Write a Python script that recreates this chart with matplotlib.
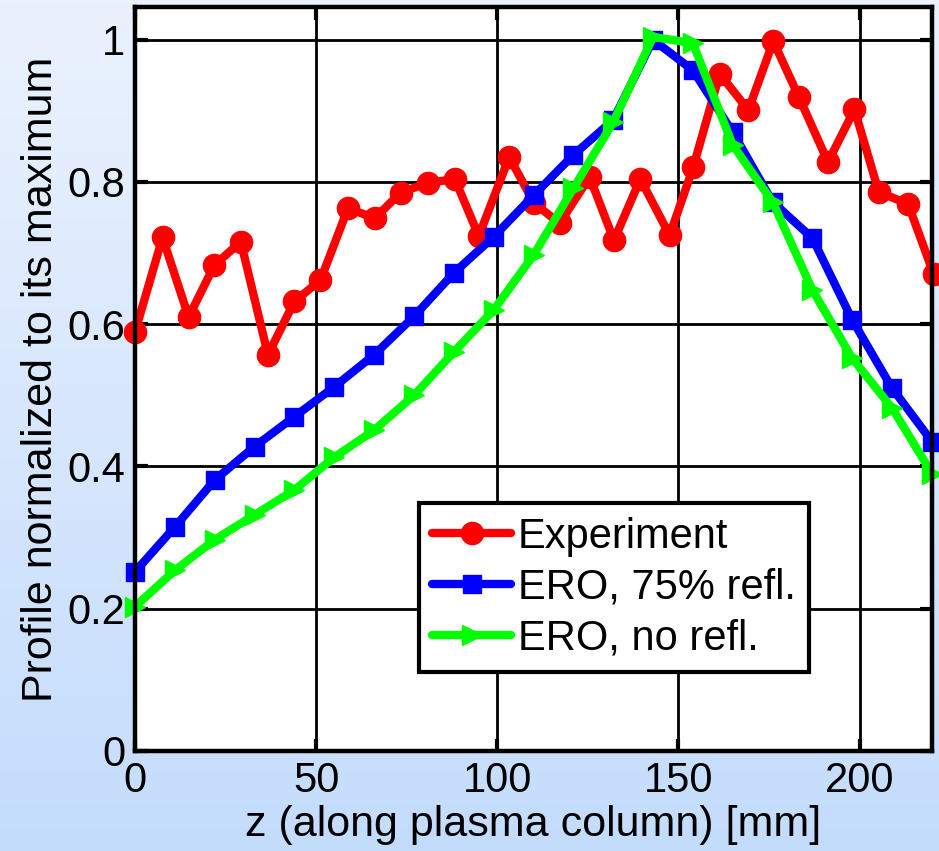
import numpy as np
import matplotlib
matplotlib.use("Agg")
import matplotlib.pyplot as plt
from matplotlib.colors import LinearSegmentedColormap

# ---- data ----
z_exp = [0, 7.6, 14.8, 21.9, 29.2, 36.7, 44.0, 51.2, 58.8, 66.2, 73.3, 80.9, 88.3,
         94.9, 103.3, 110.2, 117.2, 125.5, 132.2, 139.5, 147.6, 154.1, 161.4, 169.3,
         176.2, 183.2, 191.3, 198.6, 205.3, 213.4, 220.5]
y_exp = [0.589, 0.722, 0.610, 0.683, 0.716, 0.557, 0.632, 0.662, 0.763, 0.749, 0.785,
         0.799, 0.804, 0.724, 0.835, 0.770, 0.742, 0.807, 0.718, 0.804, 0.725, 0.821,
         0.952, 0.901, 0.998, 0.920, 0.828, 0.902, 0.786, 0.769, 0.670]

z_ero = [0, 11, 22, 33, 44, 55, 66, 77, 88, 99, 110, 121, 132, 143, 154, 165, 176,
         187, 198, 209, 220]
y_ero75 = [0.252, 0.315, 0.381, 0.428, 0.470, 0.512, 0.557, 0.611, 0.672, 0.723, 0.781,
           0.838, 0.887, 1.000, 0.957, 0.870, 0.772, 0.721, 0.606, 0.510, 0.435]
y_ero0 = [0.203, 0.254, 0.297, 0.332, 0.367, 0.413, 0.451, 0.500, 0.561, 0.620, 0.697,
          0.791, 0.884, 1.004, 0.995, 0.852, 0.772, 0.648, 0.552, 0.482, 0.390]

labels = ["Experiment", "ERO, 75% refl.", "ERO, no refl."]
xticks = [0, 50, 100, 150, 200]
yticks = [0, 0.2, 0.4, 0.6, 0.8, 1]
yticklabels = ["0", "0.2", "0.4", "0.6", "0.8", "1"]

plt.rcParams['font.family'] = ['Liberation Sans', 'DejaVu Sans']

fig = plt.figure(figsize=(9.39, 8.51), dpi=100)

# background gradient
bg = fig.add_axes([0, 0, 1, 1], zorder=-10)
cmap = LinearSegmentedColormap.from_list("bg", ["#c4dcfc", "#ebf2fe"])
grad = np.linspace(0, 1, 256).reshape(-1, 1)
bg.imshow(grad, aspect='auto', cmap=cmap, origin='lower', extent=[0, 1, 0, 1])
bg.axis('off')

ax = fig.add_axes([135/939, 1-751/851, (932-135)/939, (751-7)/851])
ax.set_facecolor('white')

common = dict(lw=6, solid_capstyle='round', solid_joinstyle='round', clip_on=False)
ax.plot(z_exp, y_exp, color='#ff0000', marker='o', ms=16, label=labels[0], zorder=3, **common)
ax.plot(z_ero, y_ero75, color='#0000ff', marker='s', ms=13, label=labels[1], zorder=4, **common)
ax.plot(z_ero, y_ero0, color='#00ff00', marker='>', ms=14.5, label=labels[2], zorder=5, **common)

ax.set_xlim(0, 220)
ax.set_ylim(0, 1.046)
ax.set_xticks(xticks)
ax.set_yticks(yticks)
ax.set_yticklabels(yticklabels)
ax.grid(True, color='black', lw=2.0)
ax.set_axisbelow(True)
for s in ax.spines.values():
    s.set_linewidth(3.2)
    s.set_zorder(6)
ax.tick_params(direction='in', length=9, width=3, labelsize=30, top=True, right=True,
               pad=7)

ax.set_xlabel("z (along plasma column) [mm]", fontsize=31)
ax.set_ylabel("Profile normalized to its maximum", fontsize=31)
ax.yaxis.set_label_coords(-0.093, 0.5)
ax.xaxis.set_label_coords(0.5, -0.072)

leg = ax.legend(loc='upper left', bbox_to_anchor=(0.3563, 0.333), borderaxespad=0,
                fontsize=30, frameon=True, fancybox=False, edgecolor='black',
                framealpha=1, handlelength=1.9, handletextpad=0.15, labelspacing=0.26,
                borderpad=0.32)
leg.get_frame().set_linewidth(3)
leg.set_zorder(10)

fig.savefig("out.png", dpi=100)
